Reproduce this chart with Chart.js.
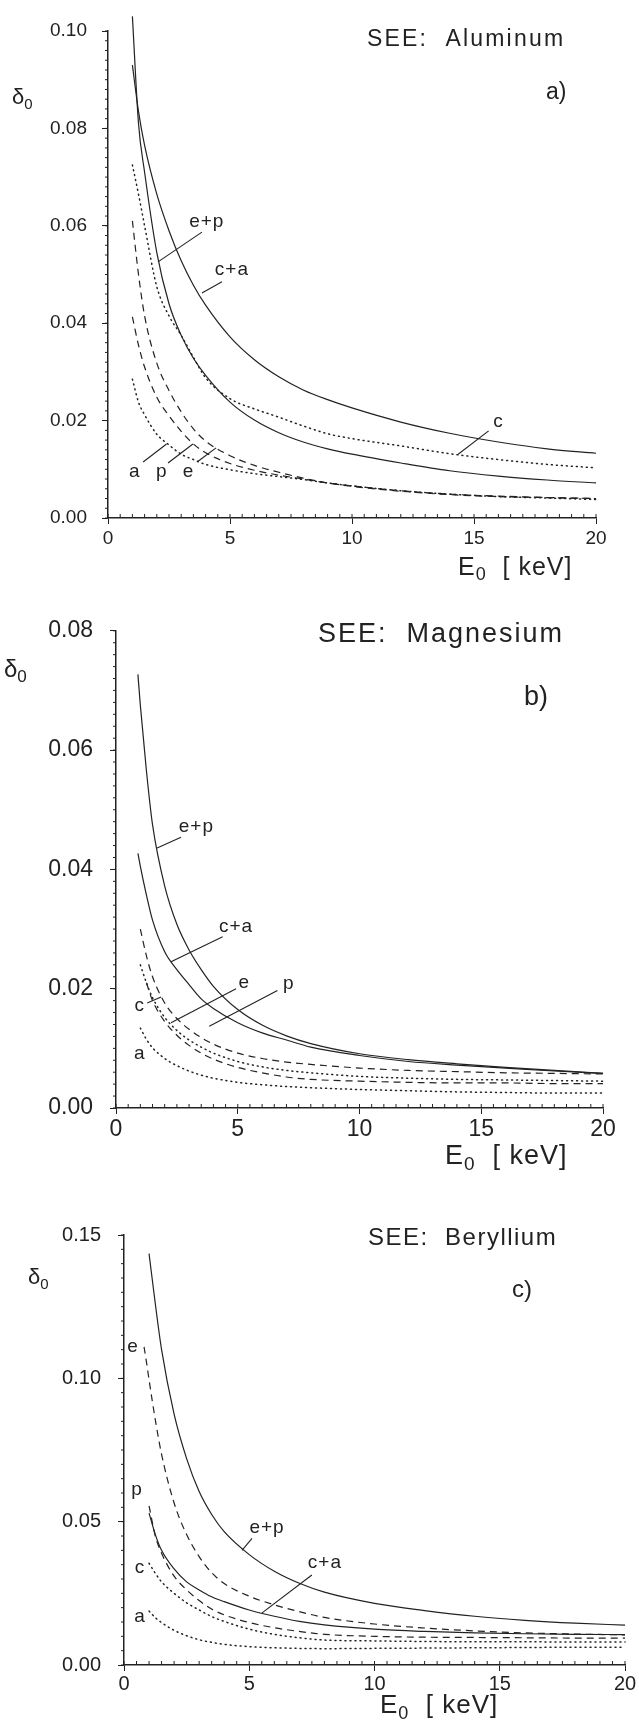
<!DOCTYPE html>
<html>
<head>
<meta charset="utf-8">
<script src="https://cdn.jsdelivr.net/npm/chart.js@4.4.1/dist/chart.umd.min.js"></script>
<style>
  body { margin: 0; background: #fff; }
  .panel { position: absolute; left: 0; width: 639px; }
</style>
</head>
<body>
<div class="panel" style="top:0;height:600px"><canvas id="chartA"></canvas></div>
<div class="panel" style="top:600px;height:580px"><canvas id="chartB"></canvas></div>
<div class="panel" style="top:1180px;height:540px"><canvas id="chartC"></canvas></div>
<script>
// SEE yield delta_0 vs primary energy E0 [keV], three targets
const INK = '#222';
const FONT = '"Liberation Sans", "DejaVu Sans", sans-serif';

// a) Aluminum
const alE0 = [1, 1.25, 1.5, 2, 2.5, 3, 3.5, 4, 5, 6, 7, 8, 9, 10, 12, 14, 16, 18, 20];
const alEP = [0.103, 0.081, 0.071, 0.0545, 0.044, 0.0375, 0.0328, 0.0293, 0.0238, 0.0201, 0.0175, 0.0156, 0.0142, 0.0131, 0.0113, 0.0097, 0.0086, 0.0078, 0.0072];
const alCA = [0.093, 0.0835, 0.0765, 0.0665, 0.059, 0.0528, 0.0478, 0.0437, 0.0372, 0.0325, 0.029, 0.0263, 0.0243, 0.0226, 0.0197, 0.0174, 0.0156, 0.0142, 0.0133];
const alC = [0.0725, 0.0665, 0.060, 0.0475, 0.0415, 0.0375, 0.033, 0.0288, 0.0245, 0.0224, 0.0207, 0.0189, 0.0173, 0.0163, 0.0148, 0.0132, 0.012, 0.011, 0.0103];
const alE = [0.061, 0.050, 0.0415, 0.0318, 0.0262, 0.0218, 0.0183, 0.0158, 0.0128, 0.0108, 0.0094, 0.0082, 0.0072, 0.0065, 0.0055, 0.0048, 0.0044, 0.0042, 0.004];
const alP = [0.0413, 0.0355, 0.031, 0.0248, 0.021, 0.0178, 0.0152, 0.0134, 0.0112, 0.0098, 0.0088, 0.008, 0.0072, 0.0066, 0.0056, 0.0049, 0.0045, 0.0042, 0.004];
const alA = [0.0285, 0.0238, 0.0212, 0.0172, 0.015, 0.0131, 0.012, 0.011, 0.0099, 0.0091, 0.0085, 0.0079, 0.0072, 0.0066, 0.0056, 0.0049, 0.0044, 0.0041, 0.0038];

// b) Magnesium
const mgE0 = [0.9, 1, 1.25, 1.5, 2, 2.5, 3, 3.5, 4, 5, 6, 7, 8, 10, 12, 14, 16, 18, 20];
const mgEP = [0.0727, 0.0675, 0.0565, 0.0475, 0.0372, 0.0308, 0.0265, 0.0232, 0.0204, 0.0165, 0.0139, 0.0121, 0.0108, 0.0091, 0.0081, 0.0074, 0.0068, 0.0063, 0.0058];
const mgCA = [0.0427, 0.0405, 0.0357, 0.0315, 0.0262, 0.0232, 0.0207, 0.0183, 0.0167, 0.0143, 0.0126, 0.0114, 0.0102, 0.0088, 0.0078, 0.0072, 0.0067, 0.0062, 0.0058];
const mgE = [null, 0.030, 0.0255, 0.022, 0.0176, 0.015, 0.0132, 0.0118, 0.0107, 0.0092, 0.0083, 0.0077, 0.0073, 0.0067, 0.0063, 0.0061, 0.0059, 0.0058, 0.0057];
const mgP = [null, null, 0.021, 0.018, 0.0145, 0.0122, 0.0105, 0.0092, 0.0082, 0.0068, 0.0059, 0.0052, 0.0048, 0.0045, 0.0043, 0.0042, 0.0042, 0.0041, 0.0041];
const mgC = [null, 0.024, 0.021, 0.0185, 0.0152, 0.013, 0.0114, 0.0102, 0.0092, 0.0078, 0.0069, 0.0063, 0.0059, 0.0053, 0.005, 0.0048, 0.0047, 0.0046, 0.0045];
const mgA = [null, 0.0134, 0.0115, 0.0101, 0.0083, 0.0071, 0.0062, 0.0055, 0.005, 0.0043, 0.0039, 0.0036, 0.0034, 0.0031, 0.0029, 0.0027, 0.0026, 0.0025, 0.0025];

// c) Beryllium
const beE0 = [0.8, 0.9, 1, 1.25, 1.5, 2, 2.5, 3, 3.5, 4, 5, 6, 7, 8, 10, 12, 14, 16, 18, 20];
const beEP = [null, null, 0.1435, 0.126, 0.110, 0.0875, 0.072, 0.0605, 0.0525, 0.0465, 0.0385, 0.0327, 0.0285, 0.0254, 0.0215, 0.019, 0.017, 0.0156, 0.0146, 0.0139];
const beCA = [null, null, 0.053, 0.0455, 0.040, 0.0335, 0.029, 0.0262, 0.0238, 0.0221, 0.0192, 0.017, 0.0152, 0.014, 0.0125, 0.0117, 0.0112, 0.0109, 0.0107, 0.0106];
const beE = [0.111, 0.1055, 0.0995, 0.0855, 0.0735, 0.0565, 0.0455, 0.0378, 0.0322, 0.0284, 0.024, 0.021, 0.0186, 0.0166, 0.0143, 0.0129, 0.0119, 0.0112, 0.0108, 0.0105];
const beP = [null, null, 0.0555, 0.045, 0.039, 0.031, 0.0262, 0.0225, 0.0195, 0.0175, 0.0148, 0.013, 0.0117, 0.0107, 0.01, 0.0097, 0.0096, 0.0095, 0.0094, 0.0094];
const beC = [null, null, 0.0355, 0.032, 0.029, 0.025, 0.0217, 0.0192, 0.0169, 0.0152, 0.0125, 0.0107, 0.0095, 0.0087, 0.0084, 0.0082, 0.0081, 0.0081, 0.008, 0.008];
const beA = [null, null, 0.0188, 0.0165, 0.0148, 0.0121, 0.0102, 0.0088, 0.0079, 0.0072, 0.0064, 0.006, 0.0058, 0.0057, 0.0058, 0.0059, 0.006, 0.0061, 0.0062, 0.0062];

function curve(xs, ys, style) {
  const pts = [];
  xs.forEach((x, i) => { if (ys[i] != null) pts.push({ x: x, y: ys[i] }); });
  const ds = {
    data: pts, borderColor: INK, borderWidth: 1.2, pointRadius: 0,
    fill: false, cubicInterpolationMode: 'monotone', clip: false
  };
  if (style === 'dash') ds.borderDash = [7, 5];
  if (style === 'dot') { ds.borderDash = [1, 4]; ds.borderCapStyle = 'round'; ds.borderWidth = 1.5; }
  return ds;
}

// minor ticks, titles and curve labels
const paper = {
  id: 'paper',
  afterDraw(chart, args, o) {
    const ctx = chart.ctx, xs = chart.scales.x, ys = chart.scales.y, area = chart.chartArea;
    ctx.save();
    ctx.strokeStyle = INK;
    ctx.fillStyle = INK;
    ctx.lineWidth = 1;
    for (let v = xs.min; v <= xs.max + 1e-9; v += o.xMinor) {
      const px = xs.getPixelForValue(v);
      ctx.beginPath(); ctx.moveTo(px, area.bottom); ctx.lineTo(px, area.bottom - 4); ctx.stroke();
    }
    for (let v = ys.min; v <= ys.max + 1e-9; v += o.yMinor) {
      const py = ys.getPixelForValue(v);
      ctx.beginPath(); ctx.moveTo(area.left, py); ctx.lineTo(area.left - 3, py); ctx.stroke();
    }
    ctx.textBaseline = 'middle';
    o.texts.forEach(t => {
      ctx.font = t.size + 'px ' + FONT;
      ctx.letterSpacing = (t.spacing || 0) + 'px';
      ctx.textAlign = t.align || 'left';
      ctx.fillText(t.t, t.x, t.y - o.top);
    });
    ctx.letterSpacing = '0px';
    ctx.textAlign = 'left';
    // delta_0
    let d = o.delta;
    ctx.font = d.size + 'px ' + FONT;
    ctx.fillText('\u03b4', d.x, d.y - o.top);
    let w = ctx.measureText('\u03b4').width;
    ctx.font = Math.round(d.size * 0.7) + 'px ' + FONT;
    ctx.fillText('0', d.x + w, d.y - o.top + d.size * 0.3);
    // E_0 [ keV]
    d = o.energy;
    ctx.font = d.size + 'px ' + FONT;
    ctx.fillText('E', d.x, d.y - o.top);
    w = ctx.measureText('E').width;
    ctx.font = Math.round(d.size * 0.7) + 'px ' + FONT;
    ctx.fillText('0', d.x + w + 1, d.y - o.top + d.size * 0.3);
    const w2 = ctx.measureText('0').width;
    ctx.font = d.size + 'px ' + FONT;
    ctx.letterSpacing = '1px';
    ctx.fillText('  [ keV]', d.x + w + w2 + 2, d.y - o.top);
    // curve labels
    ctx.font = o.noteSize + 'px ' + FONT;
    ctx.textAlign = 'center';
    o.notes.forEach(n => {
      ctx.fillText(n.t, xs.getPixelForValue(n.x), ys.getPixelForValue(n.y));
    });
    ctx.letterSpacing = '0px';
    ctx.lineWidth = 1.1;
    o.leaders.forEach(l => {
      ctx.beginPath();
      ctx.moveTo(xs.getPixelForValue(l[0]), ys.getPixelForValue(l[1]));
      ctx.lineTo(xs.getPixelForValue(l[2]), ys.getPixelForValue(l[3]));
      ctx.stroke();
    });
    ctx.restore();
  }
};

function makePanel(id, c) {
  new Chart(document.getElementById(id), {
    type: 'line',
    data: { datasets: c.datasets },
    options: {
      responsive: true, maintainAspectRatio: false, animation: false, devicePixelRatio: 1,
      layout: { padding: c.pad },
      plugins: { legend: { display: false }, tooltip: { enabled: false }, paper: c.paper },
      scales: {
        x: {
          type: 'linear', min: 0, max: 20,
          afterFit: s => { s.height = 50; },
          border: { color: INK, width: 1.5 },
          grid: { drawOnChartArea: false, tickLength: 6, color: INK },
          ticks: { stepSize: 5, padding: c.xPad, color: INK, maxRotation: 0, font: { family: FONT, size: c.tick } }
        },
        y: {
          min: 0, max: c.yMax,
          afterFit: s => { s.width = c.left; },
          border: { color: INK, width: 1.5 },
          grid: { drawOnChartArea: false, tickLength: 6, color: INK },
          ticks: { stepSize: c.yStep, padding: c.yPad, color: INK, font: { family: FONT, size: c.tick }, callback: v => v.toFixed(2) }
        }
      }
    },
    plugins: [paper]
  });
}

makePanel('chartA', {
  left: 108, yMax: 0.10, yStep: 0.02, tick: 19, xPad: 3, yPad: 15,
  pad: { left: 0, right: 43, top: 31, bottom: 32 },
  datasets: [
    curve(alE0, alEP, 'solid'), curve(alE0, alCA, 'solid'), curve(alE0, alC, 'dot'),
    curve(alE0, alE, 'dash'), curve(alE0, alP, 'dash'), curve(alE0, alA, 'dot')
  ],
  paper: {
    top: 0, xMinor: 0.5, yMinor: 0.002, noteSize: 19,
    texts: [
      { t: 'SEE:  Aluminum', x: 367, y: 40, size: 23, spacing: 2.2 },
      { t: 'a)', x: 546, y: 93, size: 23 }
    ],
    delta: { x: 12, y: 98, size: 22 },
    energy: { x: 458, y: 568, size: 25 },
    notes: [
      { t: 'e+p', x: 4.05, y: 0.0608 }, { t: 'c+a', x: 5.08, y: 0.051 }, { t: 'c', x: 16.0, y: 0.0197 },
      { t: 'a', x: 1.1, y: 0.0094 }, { t: 'p', x: 2.2, y: 0.0094 }, { t: 'e', x: 3.3, y: 0.0094 }
    ],
    leaders: [
      [3.85, 0.0587, 2.05, 0.0526], [4.67, 0.0485, 3.85, 0.0462], [15.6, 0.0179, 14.35, 0.0131],
      [1.44, 0.0115, 2.4, 0.0152], [2.46, 0.0113, 3.48, 0.0152], [3.65, 0.0115, 4.43, 0.0144]
    ]
  }
});

makePanel('chartB', {
  left: 116, yMax: 0.08, yStep: 0.02, tick: 23, xPad: 2, yPad: 17,
  pad: { left: 0, right: 36, top: 25, bottom: 22 },
  datasets: [
    curve(mgE0, mgEP, 'solid'), curve(mgE0, mgCA, 'solid'), curve(mgE0, mgE, 'dash'),
    curve(mgE0, mgP, 'dash'), curve(mgE0, mgC, 'dot'), curve(mgE0, mgA, 'dot')
  ],
  paper: {
    top: 600, xMinor: 0.5, yMinor: 0.002, noteSize: 19,
    texts: [
      { t: 'SEE:  Magnesium', x: 318, y: 635, size: 27, spacing: 2 },
      { t: 'b)', x: 524, y: 698, size: 27 }
    ],
    delta: { x: 4, y: 670, size: 24 },
    energy: { x: 445, y: 1157, size: 27 },
    notes: [
      { t: 'e+p', x: 3.3, y: 0.0472 }, { t: 'c+a', x: 4.93, y: 0.0303 }, { t: 'e', x: 5.27, y: 0.021 },
      { t: 'p', x: 7.1, y: 0.0209 }, { t: 'c', x: 0.98, y: 0.0171 }, { t: 'a', x: 0.98, y: 0.0091 }
    ],
    leaders: [
      [2.67, 0.0454, 1.69, 0.0436], [4.38, 0.0287, 2.26, 0.0245], [4.93, 0.020, 2.26, 0.0143],
      [6.63, 0.0197, 3.83, 0.0137], [1.28, 0.0176, 1.85, 0.0186]
    ]
  }
});

makePanel('chartC', {
  left: 124, yMax: 0.15, yStep: 0.05, tick: 20, xPad: 1, yPad: 17,
  pad: { left: 0, right: 14, top: 55, bottom: 5 },
  datasets: [
    curve(beE0, beEP, 'solid'), curve(beE0, beCA, 'solid'), curve(beE0, beE, 'dash'),
    curve(beE0, beP, 'dash'), curve(beE0, beC, 'dot'), curve(beE0, beA, 'dot')
  ],
  paper: {
    top: 1180, xMinor: 0.5, yMinor: 0.005, noteSize: 19,
    texts: [
      { t: 'SEE:  Beryllium', x: 368, y: 1238, size: 24, spacing: 1.5 },
      { t: 'c)', x: 512, y: 1290, size: 24 }
    ],
    delta: { x: 28, y: 1278, size: 22 },
    energy: { x: 380, y: 1706, size: 26 },
    notes: [
      { t: 'e', x: 0.36, y: 0.111 }, { t: 'p', x: 0.52, y: 0.061 }, { t: 'c', x: 0.64, y: 0.0338 },
      { t: 'a', x: 0.64, y: 0.0167 }, { t: 'e+p', x: 5.71, y: 0.0477 }, { t: 'c+a', x: 8.02, y: 0.0355 }
    ],
    leaders: [
      [5.11, 0.0442, 4.71, 0.040], [7.5, 0.0314, 5.5, 0.0181]
    ]
  }
});
</script>
</body>
</html>
